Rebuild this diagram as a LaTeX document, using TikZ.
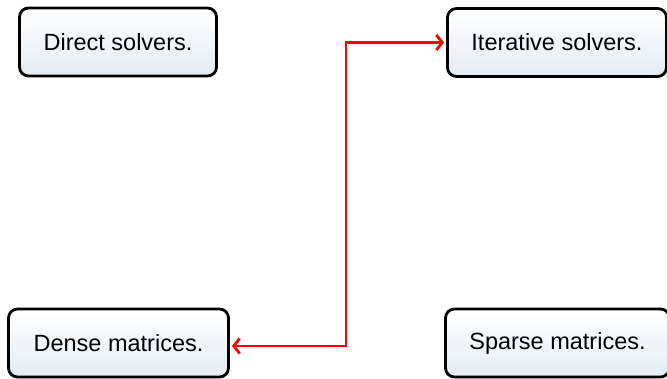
\documentclass[tikz,border=0pt]{standalone}
\usepackage{fontspec}
\setmainfont{Liberation Sans}
\usetikzlibrary{arrows.meta}
\begin{document}
\begin{tikzpicture}[x=1pt,y=1pt,
  box/.style={draw=black, line width=2.8pt, rounded corners=9pt,
    top color=white, bottom color={rgb,255:red,228;green,236;blue,242},
    minimum width=#1, minimum height=68pt, inner sep=0pt,
    font=\fontsize{23.5}{28}\selectfont},
  link/.style={draw={rgb,255:red,250;green,0;blue,0}, line width=2.8pt,
    {Straight Barb[length=6pt,width=15pt,line width=2.8pt]}-{Straight Barb[length=6pt,width=15pt,line width=2.8pt]}}]
\useasboundingbox (0,0) rectangle (667,378);
\begin{scope}
\clip (0,0) rectangle (667,378);
\node[box=197pt] (direct) at (118,336) {Direct solvers.};
\node[box=219pt] (iter) at (557,335.5) {Iterative solvers.};
\node[box=220pt] (dense) at (118.5,35) {Dense matrices.};
\node[box=224pt] (sparse) at (557.5,35) {Sparse matrices.};
\end{scope}
\coordinate (bend) at (346,200);
\draw[link, shorten <=2pt, shorten >=2pt] ([yshift=-3pt]dense.east) -| (bend) |- (iter.west);
\end{tikzpicture}
\end{document}
